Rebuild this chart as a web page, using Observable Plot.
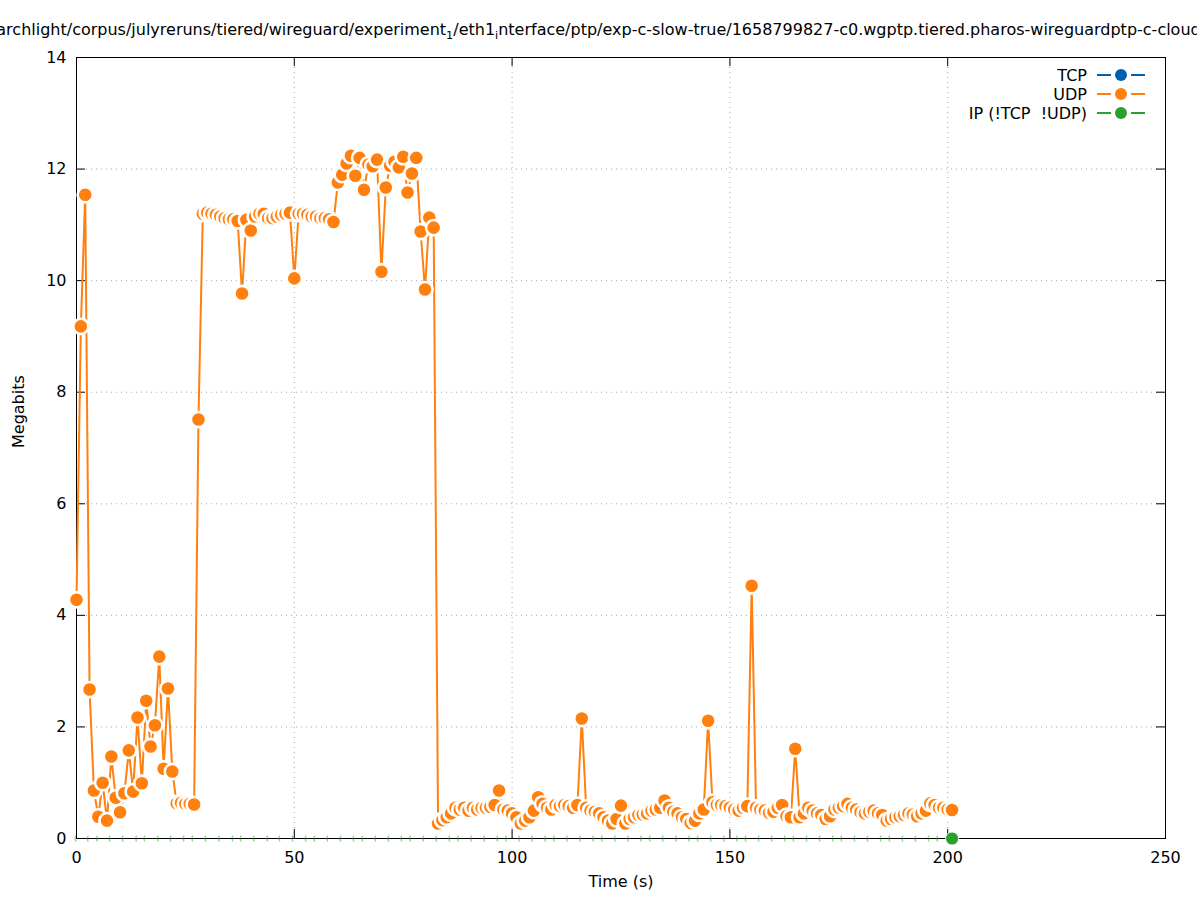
<!DOCTYPE html>
<html><head><meta charset="utf-8">
<script src="https://cdn.jsdelivr.net/npm/d3@7"></script>
<script src="https://cdn.jsdelivr.net/npm/@observablehq/plot@0.6"></script>
<style>
body{margin:0;background:#fff;font-family:"DejaVu Sans",sans-serif;}
#wrap{position:relative;width:1197px;height:900px;overflow:hidden;background:#fff;}
#title{box-sizing:border-box;height:44px;padding-top:20px;display:flex;justify-content:center;white-space:nowrap;overflow:hidden;font-size:16px;line-height:20px;color:#000;}
#title sub{font-size:0.7em;vertical-align:-0.35em;line-height:0;}
</style>
</head><body>
<div id="wrap">
<div id="title"><span>archlight/corpus/julyreruns/tiered/wireguard/experiment<sub>1</sub>/eth1<sub>i</sub>nterface/ptp/exp-c-slow-true/1658799827-c0.wgptp.tiered.pharos-wireguardptp-c-cloud</span></div>
<div id="chart"></div>
</div>
<script>
const seriesNames = ["TCP", "UDP", "IP (!TCP  !UDP)"];
const seriesColors = ["#0060ad", "#ff800e", "#2ca02c"];
const xTicks = [0, 50, 100, 150, 200, 250];
const yTicks = [0, 2, 4, 6, 8, 10, 12, 14];

const udpTimes = [
  0,1,2,3,4,5,6,7,8,9,10,11,12,13,14,15,16,17,18,19,
  20,21,22,23,24,25,26,27,28,29,30,31,32,33,34,35,36,37,38,39,
  40,41,42,43,44,45,46,47,48,49,50,51,52,53,54,55,56,57,58,59,
  60,61,62,63,64,65,66,67,68,69,70,71,72,73,74,75,76,77,78,79,
  80,81,82,83,84,85,86,87,88,89,90,91,92,93,94,95,96,97,98,99,
  100,101,102,103,104,105,106,107,108,109,110,111,112,113,114,115,116,117,118,119,
  120,121,122,123,124,125,126,127,128,129,130,131,132,133,134,135,136,137,138,139,
  140,141,142,143,144,145,146,147,148,149,150,151,152,153,154,155,156,157,158,159,
  160,161,162,163,164,165,166,167,168,169,170,171,172,173,174,175,176,177,178,179,
  180,181,182,183,184,185,186,187,188,189,190,191,192,193,194,195,196,197,198,199,
  200,201
];
const udpMegabits = [
  4.28, 9.18, 11.54, 2.67, 0.86, 0.39, 1.00, 0.32, 1.47, 0.73,
  0.47, 0.81, 1.58, 0.84, 2.17, 0.99, 2.47, 1.65, 2.03, 3.26,
  1.25, 2.69, 1.20, 0.63, 0.64, 0.62, 0.62, 0.61, 7.51, 11.20,
  11.22, 11.20, 11.18, 11.15, 11.12, 11.10, 11.10, 11.07, 9.77, 11.09,
  10.90, 11.15, 11.20, 11.20, 11.12, 11.12, 11.15, 11.18, 11.20, 11.22,
  10.04, 11.20, 11.20, 11.18, 11.15, 11.15, 11.12, 11.12, 11.10, 11.05,
  11.76, 11.90, 12.10, 12.24, 11.88, 12.20, 11.63, 12.08, 12.05, 12.17,
  10.16, 11.67, 12.06, 12.13, 12.03, 12.22, 11.58, 11.92, 12.20, 10.88,
  9.84, 11.13, 10.95, 0.27, 0.33, 0.38, 0.45, 0.55, 0.52, 0.55,
  0.50, 0.55, 0.52, 0.55, 0.55, 0.57, 0.60, 0.86, 0.52, 0.50,
  0.45, 0.38, 0.27, 0.32, 0.38, 0.50, 0.74, 0.62, 0.55, 0.52,
  0.60, 0.58, 0.60, 0.58, 0.55, 0.60, 2.15, 0.55, 0.50, 0.48,
  0.45, 0.38, 0.32, 0.27, 0.35, 0.59, 0.27, 0.35, 0.38, 0.42,
  0.43, 0.45, 0.50, 0.52, 0.55, 0.68, 0.55, 0.48, 0.45, 0.38,
  0.35, 0.28, 0.32, 0.45, 0.52, 2.11, 0.65, 0.60, 0.60, 0.58,
  0.55, 0.52, 0.50, 0.55, 0.58, 4.53, 0.55, 0.52, 0.50, 0.46,
  0.48, 0.55, 0.60, 0.40, 0.38, 1.61, 0.38, 0.45, 0.55, 0.50,
  0.45, 0.42, 0.35, 0.40, 0.52, 0.55, 0.58, 0.62, 0.55, 0.52,
  0.47, 0.45, 0.48, 0.50, 0.45, 0.42, 0.32, 0.35, 0.38, 0.40,
  0.42, 0.45, 0.43, 0.40, 0.45, 0.50, 0.63, 0.60, 0.55, 0.55,
  0.52, 0.51
];
// IP (!TCP !UDP): samples at 0 Mb; only slivers of their points stay visible on the axis
const ipTimes = [
  -0.3, 2.5, 4.6, 7.5, 10.5, 13.6, 15.5, 18.6, 21.5, 24.5, 26.5, 29.5, 32.6, 35.7, 37.6, 40.6, 43.7,
  46.5, 49.5, 52.5, 54.5, 57.5, 60.5, 63.5, 65.5, 68.5, 71.5, 74.5, 76.5, 79.5, 82.5, 85.5, 87.5,
  90.5, 93.5, 96.5, 98.5, 101.5, 104.5, 107.5, 109.5, 112.5, 115.5, 118.5, 120.5, 123.5, 126.5,
  129.5, 131.5, 134.5, 137.5, 140.5, 142.5, 145.5, 148.5, 151.5, 153.5, 156.5, 159.5, 162.5,
  164.5, 167.5, 170.5, 173.5, 175.5, 178.5, 181.5, 184.5, 186.5, 189.5, 192.5, 195.5, 197.5, 201
];
const ipMegabits = ipTimes.map(() => 0);

const udp = udpTimes.map((t, i) => ({t, v: udpMegabits[i]}));
const ip = ipTimes.map((t, i) => ({t, v: ipMegabits[i]}));
const ipSlivers = ip.slice(0, -1);
const ipLast = ip.slice(-1);

const W = 1197, H = 856, ML = 76, MR = 32, MT = 13, MB = 62;
const plotW = W - ML - MR, plotH = H - MT - MB, TK = 9;

// "(" shaped remnant of a point: left arc of a circle whose leftmost point is the anchor
const sliver = {
  draw(ctx, size) {
    const r = 6, a0 = Math.PI * 5 / 6, a1 = Math.PI * 7 / 6;
    ctx.moveTo(r + r * Math.cos(a0), r * Math.sin(a0));
    ctx.arc(r, 0, r, a0, a1, false);
  }
};

const chart = Plot.plot({
  width: W, height: H,
  marginLeft: ML, marginRight: MR, marginTop: MT, marginBottom: MB,
  style: {fontFamily: "DejaVu Sans", fontSize: "16px", background: "white", color: "black", overflow: "visible"},
  x: {domain: [0, 250]},
  y: {domain: [0, 14]},
  marks: [
    Plot.gridX(xTicks, {stroke: "#a8a8a8", strokeOpacity: 1, strokeDasharray: "1,4"}),
    Plot.gridY(yTicks, {stroke: "#a8a8a8", strokeOpacity: 1, strokeDasharray: "1,4"}),
    Plot.axisX(xTicks, {tickSize: 0, tickPadding: 13, label: null, tickFormat: d => String(d)}),
    Plot.axisY(yTicks, {tickSize: 0, tickPadding: 10, label: null, tickFormat: d => String(d)}),
    Plot.tickX(xTicks, {x: d => d, insetTop: plotH - TK, stroke: "black"}),
    Plot.tickX(xTicks, {x: d => d, insetBottom: plotH - TK, stroke: "black"}),
    Plot.tickY(yTicks, {y: d => d, insetRight: plotW - TK, stroke: "black"}),
    Plot.tickY(yTicks, {y: d => d, insetLeft: plotW - TK, stroke: "black"}),
    Plot.frame({stroke: "black"}),
    Plot.text(["Megabits"], {text: d => d, frameAnchor: "left", dx: -58, rotate: -90, fill: "black"}),
    Plot.text(["Time (s)"], {text: d => d, frameAnchor: "bottom", dy: 48, fill: "black"}),
    Plot.line(udp, {x: "t", y: "v", stroke: seriesColors[1], strokeWidth: 2}),
    Plot.dot(udp, {x: "t", y: "v", r: 7.6, fill: seriesColors[1], stroke: "white", strokeWidth: 2.6}),
    Plot.dot(ipSlivers, {x: "t", y: "v", symbol: sliver, r: 6, fill: "none", stroke: seriesColors[2], strokeWidth: 1.2, strokeOpacity: 0.5}),
    Plot.dot(ipLast, {x: "t", y: "v", r: 6.6, fill: seriesColors[2], stroke: "white", strokeWidth: 1})
  ]
});
document.getElementById("chart").appendChild(chart);

// legend (gnuplot style, top right inside the frame)
const lg = d3.select("#wrap").append("svg")
  .attr("width", W).attr("height", 140)
  .style("position", "absolute").style("left", 0).style("top", 0)
  .style("font-family", "DejaVu Sans").style("font-size", "16px");
seriesNames.forEach((name, i) => {
  const y = 75 + 19 * i, c = seriesColors[i];
  lg.append("text").attr("x", 1087).attr("y", y).attr("dy", "0.36em")
    .attr("text-anchor", "end").attr("fill", "black")
    .style("white-space", "pre").attr("xml:space", "preserve").text(name);
  lg.append("line").attr("x1", 1097).attr("x2", 1111).attr("y1", y).attr("y2", y).attr("stroke", c).attr("stroke-width", 2);
  lg.append("line").attr("x1", 1131).attr("x2", 1145).attr("y1", y).attr("y2", y).attr("stroke", c).attr("stroke-width", 2);
  lg.append("circle").attr("cx", 1121).attr("cy", y).attr("r", 6).attr("fill", c);
});
</script>
</body></html>
